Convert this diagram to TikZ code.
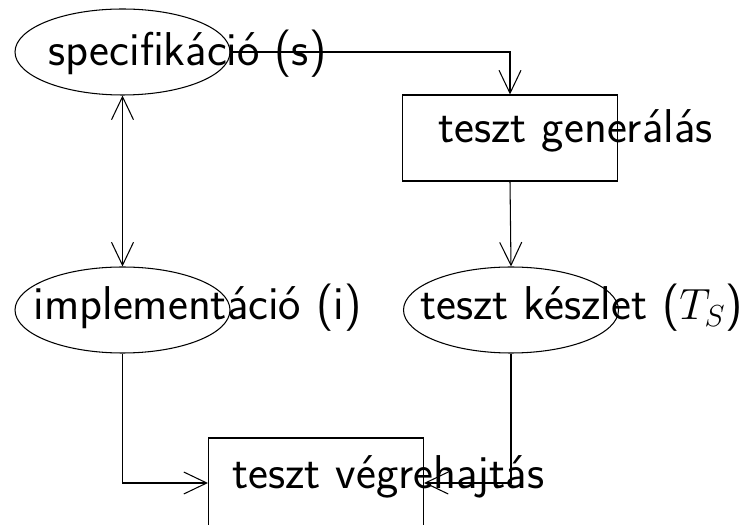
\documentclass[tikz,border=0pt]{standalone}
\usepackage{tikz}
\usetikzlibrary{arrows.meta,shapes.geometric}

\begin{document}
\begin{tikzpicture}[every node/.style={font=\sffamily\fontsize{27}{32}\selectfont},
  ell/.style={draw, ellipse, minimum width=4.3cm, minimum height=1.72cm, inner sep=0pt},
  box/.style={draw, rectangle, minimum width=4.3cm, minimum height=1.72cm, inner sep=0pt},
  lbl/.style={anchor=base west, inner sep=0pt},
  arr/.style={-{Straight Barb[length=4.6mm, width=4.4mm]}},
  darr/.style={{Straight Barb[length=4.6mm, width=4.4mm]}-{Straight Barb[length=4.6mm, width=4.4mm]}},
  line width=0.6pt]
\useasboundingbox (0,0) rectangle (14.9,10.48);
% Shapes
\node[ell] (spec) at (2.45,9.44) {};
\node[box] (gen) at (10.2,7.72) {};
\node[ell] (impl) at (2.45,4.28) {};
\node[ell] (keszlet) at (10.22,4.28) {};
\node[box, minimum height=1.8cm] (exec) at (6.32,0.82) {};
% Labels
\node[lbl] (specl) at (0.96,9.16) {specifikáció (s)};
\node[lbl] (genl) at (8.76,7.62) {teszt generálás};
\node[lbl] (impll) at (0.66,4.08) {implementáció (i)};
\node[lbl] (keszletl) at (8.4,4.08) {teszt készlet ($T_S$)};
\node[lbl] (execl) at (4.64,0.72) {teszt végrehajtás};
% Connections
\draw[arr] (spec.east) -| (gen.north);
\draw[arr] (gen.south) -- (keszlet.north);
\draw[darr] (spec.south) -- (impl.north);
\draw[arr] (impl.south) |- (exec.west);
\draw[arr] (keszlet.south) |- (exec.east);
\end{tikzpicture}
\end{document}
